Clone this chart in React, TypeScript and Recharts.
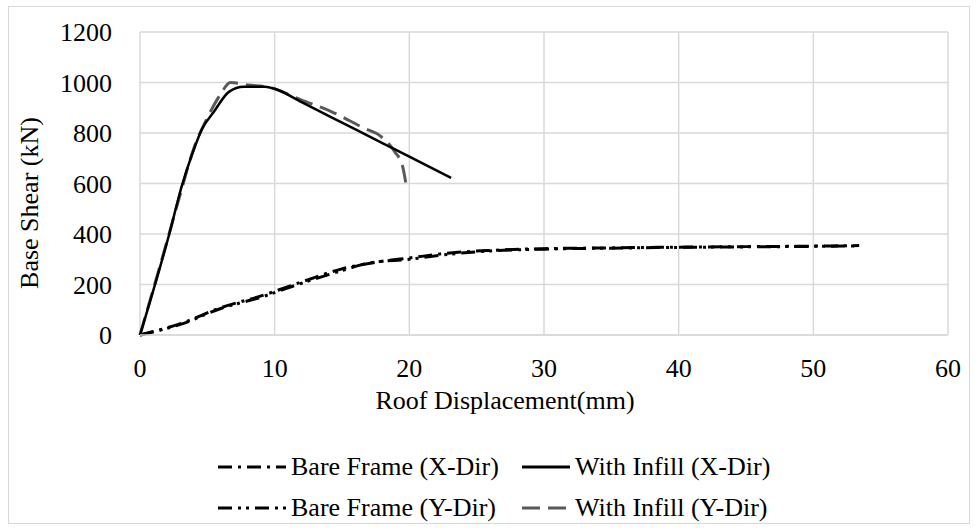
import React from 'react';
import { LineChart, Line, XAxis, YAxis, CartesianGrid, Label } from 'recharts';

// pushover curves, roof displacement (mm) vs base shear (kN)
const bareXDisp = [0, 3, 6, 9, 12, 15, 18, 20, 23, 26, 30, 35, 40, 45, 50, 53.4];
const bareXShear = [0, 45, 108, 155, 210, 262, 292, 305, 325, 335, 342, 345, 348, 350, 352, 354];

const bareYDisp = [0, 3, 6, 9, 12, 15, 17, 20, 23, 26, 30, 35, 40, 45, 50, 53.4];
const bareYShear = [0, 42, 105, 150, 205, 255, 285, 300, 320, 333, 340, 344, 347, 349, 351, 353];

const infillXDisp = [0, 2.2, 3.1, 3.9, 4.6, 5.5, 6.6, 7.7, 9.3, 10, 12, 14, 16, 18, 20, 23.1];
const infillXShear = [0, 405, 590, 720, 815, 885, 963, 983, 983, 975, 922, 868, 814, 760, 706, 622];

const infillYDisp = [0, 2, 3, 4, 5, 6, 6.7, 8, 9.5, 12, 14.2, 16.6, 17.9, 18.9, 19.5, 19.8];
const infillYShear = [0, 370, 560, 740, 860, 955, 1000, 990, 982, 930, 885, 820, 786, 727, 668, 580];

const xTicks = [0, 10, 20, 30, 40, 50, 60];
const yTicks = [0, 200, 400, 600, 800, 1000, 1200];

const toPoints = (xs: number[], ys: number[]) => xs.map((x, i) => ({ x, y: ys[i] }));

const bareX = toPoints(bareXDisp, bareXShear);
const bareY = toPoints(bareYDisp, bareYShear);
const infillX = toPoints(infillXDisp, infillXShear);
const infillY = toPoints(infillYDisp, infillYShear);

const FONT = "'Times New Roman', Times, 'Liberation Serif', Tinos, 'Noto Serif', 'DejaVu Serif', FreeSerif, serif";

const seriesStyle = [
  { name: 'Bare Frame (X-Dir)', color: '#000', dash: '14 6 3 6' },
  { name: 'With Infill (X-Dir)', color: '#000', dash: undefined },
  { name: 'Bare Frame (Y-Dir)', color: '#000', dash: '14 6 3 5 3 6' },
  { name: 'With Infill (Y-Dir)', color: '#595959', dash: '18 8' },
];

const ChartLegend = () => (
  <div style={{ position: 'absolute', left: 0, top: 452, width: 978, height: 90, fontFamily: FONT, fontSize: 26, color: '#000' }}>
    {seriesStyle.map((s, i) => {
      const col = i % 2;
      const row = Math.floor(i / 2);
      const iconW = col === 0 ? 68 : 48;
      const left = col === 0 ? 218 : 522;
      return (
        <div
          key={s.name}
          style={{ position: 'absolute', left, top: row * 41, display: 'flex', alignItems: 'center', whiteSpace: 'nowrap' }}
        >
          <svg width={iconW} height={10} style={{ marginRight: 5 }}>
            <line x1={0} y1={5} x2={iconW} y2={5} stroke={s.color} strokeWidth={3} strokeDasharray={s.dash} />
          </svg>
          <span>{s.name}</span>
        </div>
      );
    })}
  </div>
);

export default function App() {
  return (
    <div style={{ position: 'absolute', left: 0, top: 0, width: 978, height: 530, background: '#fff', fontFamily: FONT }}>
      <div
        style={{
          position: 'absolute',
          left: 8,
          top: 6,
          width: 962,
          height: 518,
          border: '1.5px solid #d9d9d9',
          boxSizing: 'border-box',
        }}
      />
      <LineChart width={978} height={530} margin={{ top: 32, right: 30, bottom: 165, left: 0 }}>
        <CartesianGrid stroke="#d9d9d9" strokeWidth={1.5} horizontal vertical />
        <XAxis
          type="number"
          dataKey="x"
          domain={[0, 60]}
          ticks={xTicks}
          axisLine={{ stroke: '#d9d9d9', strokeWidth: 1.5 }}
          tickLine={false}
          tickMargin={18}
          tick={{ fontFamily: FONT, fontSize: 26, fill: '#000' }}
          height={30}
        >
          <Label
            content={() => (
              <text x={505} y={409} textAnchor="middle" fontFamily={FONT} fontSize={26} fill="#000">
                Roof Displacement(mm)
              </text>
            )}
          />
        </XAxis>
        <YAxis
          type="number"
          dataKey="y"
          domain={[0, 1200]}
          ticks={yTicks}
          width={140}
          axisLine={false}
          tickLine={false}
          tickMargin={22}
          tick={{ fontFamily: FONT, fontSize: 26, fill: '#000' }}
        >
          <Label
            content={() => (
              <text
                x={38}
                y={203}
                transform="rotate(-90 38 203)"
                textAnchor="middle"
                fontFamily={FONT}
                fontSize={26}
                fill="#000"
              >
                Base Shear (kN)
              </text>
            )}
          />
        </YAxis>
        <Line data={bareX} dataKey="y" name={seriesStyle[0].name} stroke="#000" strokeWidth={3} strokeDasharray={seriesStyle[0].dash} dot={false} isAnimationActive={false} type="monotone" />
        <Line data={bareY} dataKey="y" name={seriesStyle[2].name} stroke="#000" strokeWidth={3} strokeDasharray={seriesStyle[2].dash} dot={false} isAnimationActive={false} type="monotone" />
        <Line data={infillY} dataKey="y" name={seriesStyle[3].name} stroke="#595959" strokeWidth={3} strokeDasharray={seriesStyle[3].dash} dot={false} isAnimationActive={false} type="monotone" />
        <Line data={infillX} dataKey="y" name={seriesStyle[1].name} stroke="#000" strokeWidth={2.5} dot={false} isAnimationActive={false} type="monotone" />
      </LineChart>
      <ChartLegend />
    </div>
  );
}
